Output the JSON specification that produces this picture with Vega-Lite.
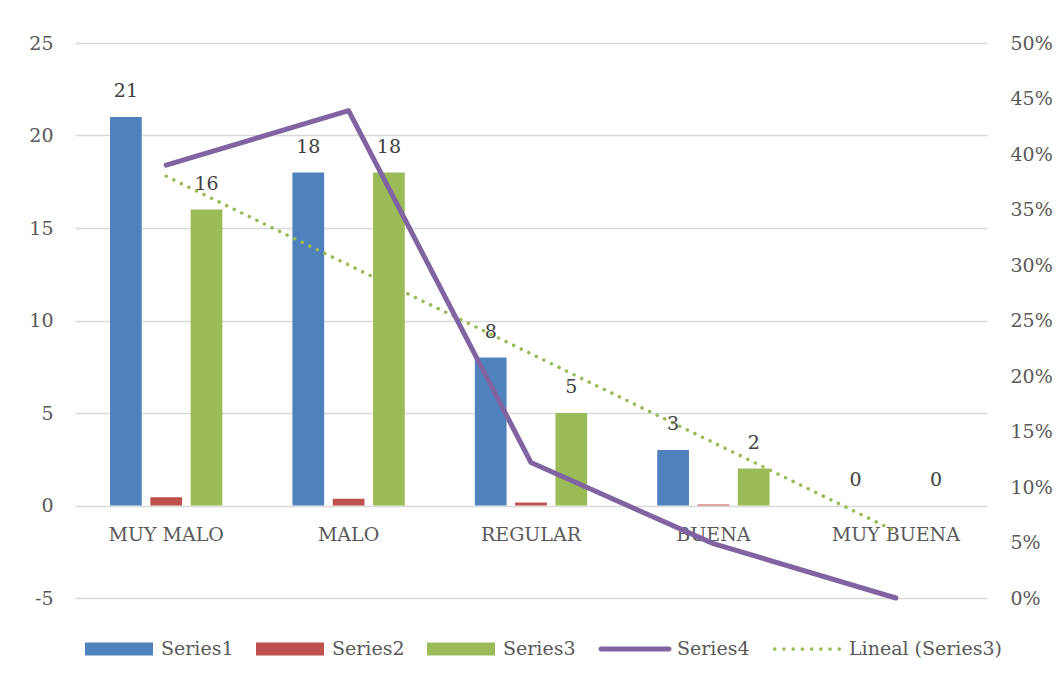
{
  "$schema": "https://vega.github.io/schema/vega-lite/v6.json",
  "width": 912,
  "height": 555,
  "autosize": "none",
  "padding": {"left": 75, "top": 43, "right": 73, "bottom": 81},
  "background": "white",
  "config": {
    "font": "DejaVu Serif",
    "view": {"stroke": null},
    "axis": {"labelFont": "DejaVu Serif", "labelFontSize": 19, "labelColor": "#595959", "ticks": false, "domain": false},
    "axisX": {"offset": -92.5, "labelPadding": 20, "grid": false, "labelAngle": 0}
  },
  "datasets": {
    "bars": [
      {"cat": "MUY MALO", "series": "Series1", "value": 21},
      {"cat": "MUY MALO", "series": "Series2", "value": 0.44},
      {"cat": "MUY MALO", "series": "Series3", "value": 16},
      {"cat": "MALO", "series": "Series1", "value": 18},
      {"cat": "MALO", "series": "Series2", "value": 0.37},
      {"cat": "MALO", "series": "Series3", "value": 18},
      {"cat": "REGULAR", "series": "Series1", "value": 8},
      {"cat": "REGULAR", "series": "Series2", "value": 0.16},
      {"cat": "REGULAR", "series": "Series3", "value": 5},
      {"cat": "BUENA", "series": "Series1", "value": 3},
      {"cat": "BUENA", "series": "Series2", "value": 0.06},
      {"cat": "BUENA", "series": "Series3", "value": 2},
      {"cat": "MUY BUENA", "series": "Series1", "value": 0},
      {"cat": "MUY BUENA", "series": "Series2", "value": 0},
      {"cat": "MUY BUENA", "series": "Series3", "value": 0}
    ],
    "pct": [
      {"cat": "MUY MALO", "series": "Series4", "value": 0.39},
      {"cat": "MALO", "series": "Series4", "value": 0.439},
      {"cat": "REGULAR", "series": "Series4", "value": 0.122},
      {"cat": "BUENA", "series": "Series4", "value": 0.049},
      {"cat": "MUY BUENA", "series": "Series4", "value": 0}
    ],
    "trend": [
      {"cat": "MUY MALO", "series": "Lineal (Series3)", "value": 17.8},
      {"cat": "MALO", "series": "Lineal (Series3)", "value": 13.0},
      {"cat": "REGULAR", "series": "Lineal (Series3)", "value": 8.2},
      {"cat": "BUENA", "series": "Lineal (Series3)", "value": 3.4},
      {"cat": "MUY BUENA", "series": "Lineal (Series3)", "value": -1.4}
    ]
  },
  "layer": [
    {
      "layer": [
        {
          "data": {"name": "bars"},
          "mark": {"type": "bar"},
          "encoding": {
            "x": {"field": "cat", "type": "nominal", "title": null, "scale": {"domain": ["MUY MALO", "MALO", "REGULAR", "BUENA", "MUY BUENA"], "paddingInner": 0.384, "paddingOuter": 0.192}},
            "xOffset": {"field": "series", "type": "nominal", "scale": {"domain": ["Series1", "Series2", "Series3"], "paddingInner": 0.213, "paddingOuter": 0}},
            "y": {"field": "value", "type": "quantitative", "title": null, "scale": {"domain": [-5, 25], "nice": false, "zero": false}, "axis": {"values": [-5, 0, 5, 10, 15, 20, 25], "labelExpr": "replace(datum.label, '\u2212', '-')", "grid": true, "gridColor": "#d9d9d9", "gridWidth": 1.3, "labelPadding": 22, "orient": "left"}},
            "color": {
              "field": "series", "type": "nominal",
              "scale": {"domain": ["Series1", "Series2", "Series3", "Series4", "Lineal (Series3)"], "range": ["#4F81BD", "#C0504D", "#9BBB59", "#8064A2", "#9BBB59"]},
              "legend": {
                "title": null, "orient": "none", "legendX": 10, "legendY": 572, "direction": "horizontal",
                "symbolSize": 4624, "labelFontSize": 19, "labelColor": "#595959", "labelFont": "DejaVu Serif",
                "labelOffset": 8, "columnPadding": 22, "labelLimit": 0, "symbolOpacity": 1, "symbolStrokeWidth": 0,
                "symbolType": {"expr": "datum.value === 'Series4' ? 'M-1,-0.0735H1A0.0735,0.0735 0 0 1 1,0.0735H-1A0.0735,0.0735 0 0 1 -1,-0.0735Z' : datum.value === 'Lineal (Series3)' ? 'M-1.002,0a0.052,0.052 0 1,0 0.104,0a0.052,0.052 0 1,0 -0.104,0M-0.730,0a0.052,0.052 0 1,0 0.104,0a0.052,0.052 0 1,0 -0.104,0M-0.459,0a0.052,0.052 0 1,0 0.104,0a0.052,0.052 0 1,0 -0.104,0M-0.188,0a0.052,0.052 0 1,0 0.104,0a0.052,0.052 0 1,0 -0.104,0M0.084,0a0.052,0.052 0 1,0 0.104,0a0.052,0.052 0 1,0 -0.104,0M0.355,0a0.052,0.052 0 1,0 0.104,0a0.052,0.052 0 1,0 -0.104,0M0.626,0a0.052,0.052 0 1,0 0.104,0a0.052,0.052 0 1,0 -0.104,0M0.898,0a0.052,0.052 0 1,0 0.104,0a0.052,0.052 0 1,0 -0.104,0' : 'M-1,-0.19H1V0.19H-1Z'"}
              }
            }
          }
        },
        {
          "data": {"name": "trend"},
          "mark": {"type": "line", "strokeWidth": 3.5, "strokeDash": [0.1, 8.3], "strokeCap": "round"},
          "encoding": {
            "x": {"field": "cat", "type": "nominal", "title": null, "scale": {"domain": ["MUY MALO", "MALO", "REGULAR", "BUENA", "MUY BUENA"], "paddingInner": 0.384, "paddingOuter": 0.192}},
            "y": {"field": "value", "type": "quantitative", "title": null, "scale": {"domain": [-5, 25], "nice": false, "zero": false}},
            "color": {"field": "series", "type": "nominal", "scale": {"domain": ["Series1", "Series2", "Series3", "Series4", "Lineal (Series3)"], "range": ["#4F81BD", "#C0504D", "#9BBB59", "#8064A2", "#9BBB59"]}}
          }
        },
        {
          "data": {"name": "bars"},
          "transform": [{"filter": "datum.series !== 'Series2'"}],
          "mark": {"type": "text", "baseline": "alphabetic", "dy": -20, "fontSize": 19, "font": "DejaVu Serif", "color": "#404040"},
          "encoding": {
            "x": {"field": "cat", "type": "nominal", "title": null, "scale": {"domain": ["MUY MALO", "MALO", "REGULAR", "BUENA", "MUY BUENA"], "paddingInner": 0.384, "paddingOuter": 0.192}},
            "xOffset": {"field": "series", "type": "nominal", "scale": {"domain": ["Series1", "Series2", "Series3"], "paddingInner": 0.213, "paddingOuter": 0}},
            "y": {"field": "value", "type": "quantitative", "title": null, "scale": {"domain": [-5, 25], "nice": false, "zero": false}},
            "text": {"field": "value", "type": "quantitative"}
          }
        }
      ]
    },
    {
      "data": {"name": "pct"},
      "mark": {"type": "line", "strokeWidth": 5, "strokeCap": "round", "strokeJoin": "round"},
      "encoding": {
        "x": {"field": "cat", "type": "nominal", "title": null, "scale": {"domain": ["MUY MALO", "MALO", "REGULAR", "BUENA", "MUY BUENA"], "paddingInner": 0.384, "paddingOuter": 0.192}},
        "y": {"field": "value", "type": "quantitative", "title": null, "scale": {"domain": [0, 0.5], "nice": false, "zero": false}, "axis": {"orient": "right", "values": [0, 0.05, 0.1, 0.15, 0.2, 0.25, 0.3, 0.35, 0.4, 0.45, 0.5], "format": ".0%", "grid": false, "labelPadding": 23}},
        "color": {"field": "series", "type": "nominal", "scale": {"domain": ["Series1", "Series2", "Series3", "Series4", "Lineal (Series3)"], "range": ["#4F81BD", "#C0504D", "#9BBB59", "#8064A2", "#9BBB59"]}}
      }
    }
  ],
  "resolve": {"scale": {"y": "independent"}}
}
